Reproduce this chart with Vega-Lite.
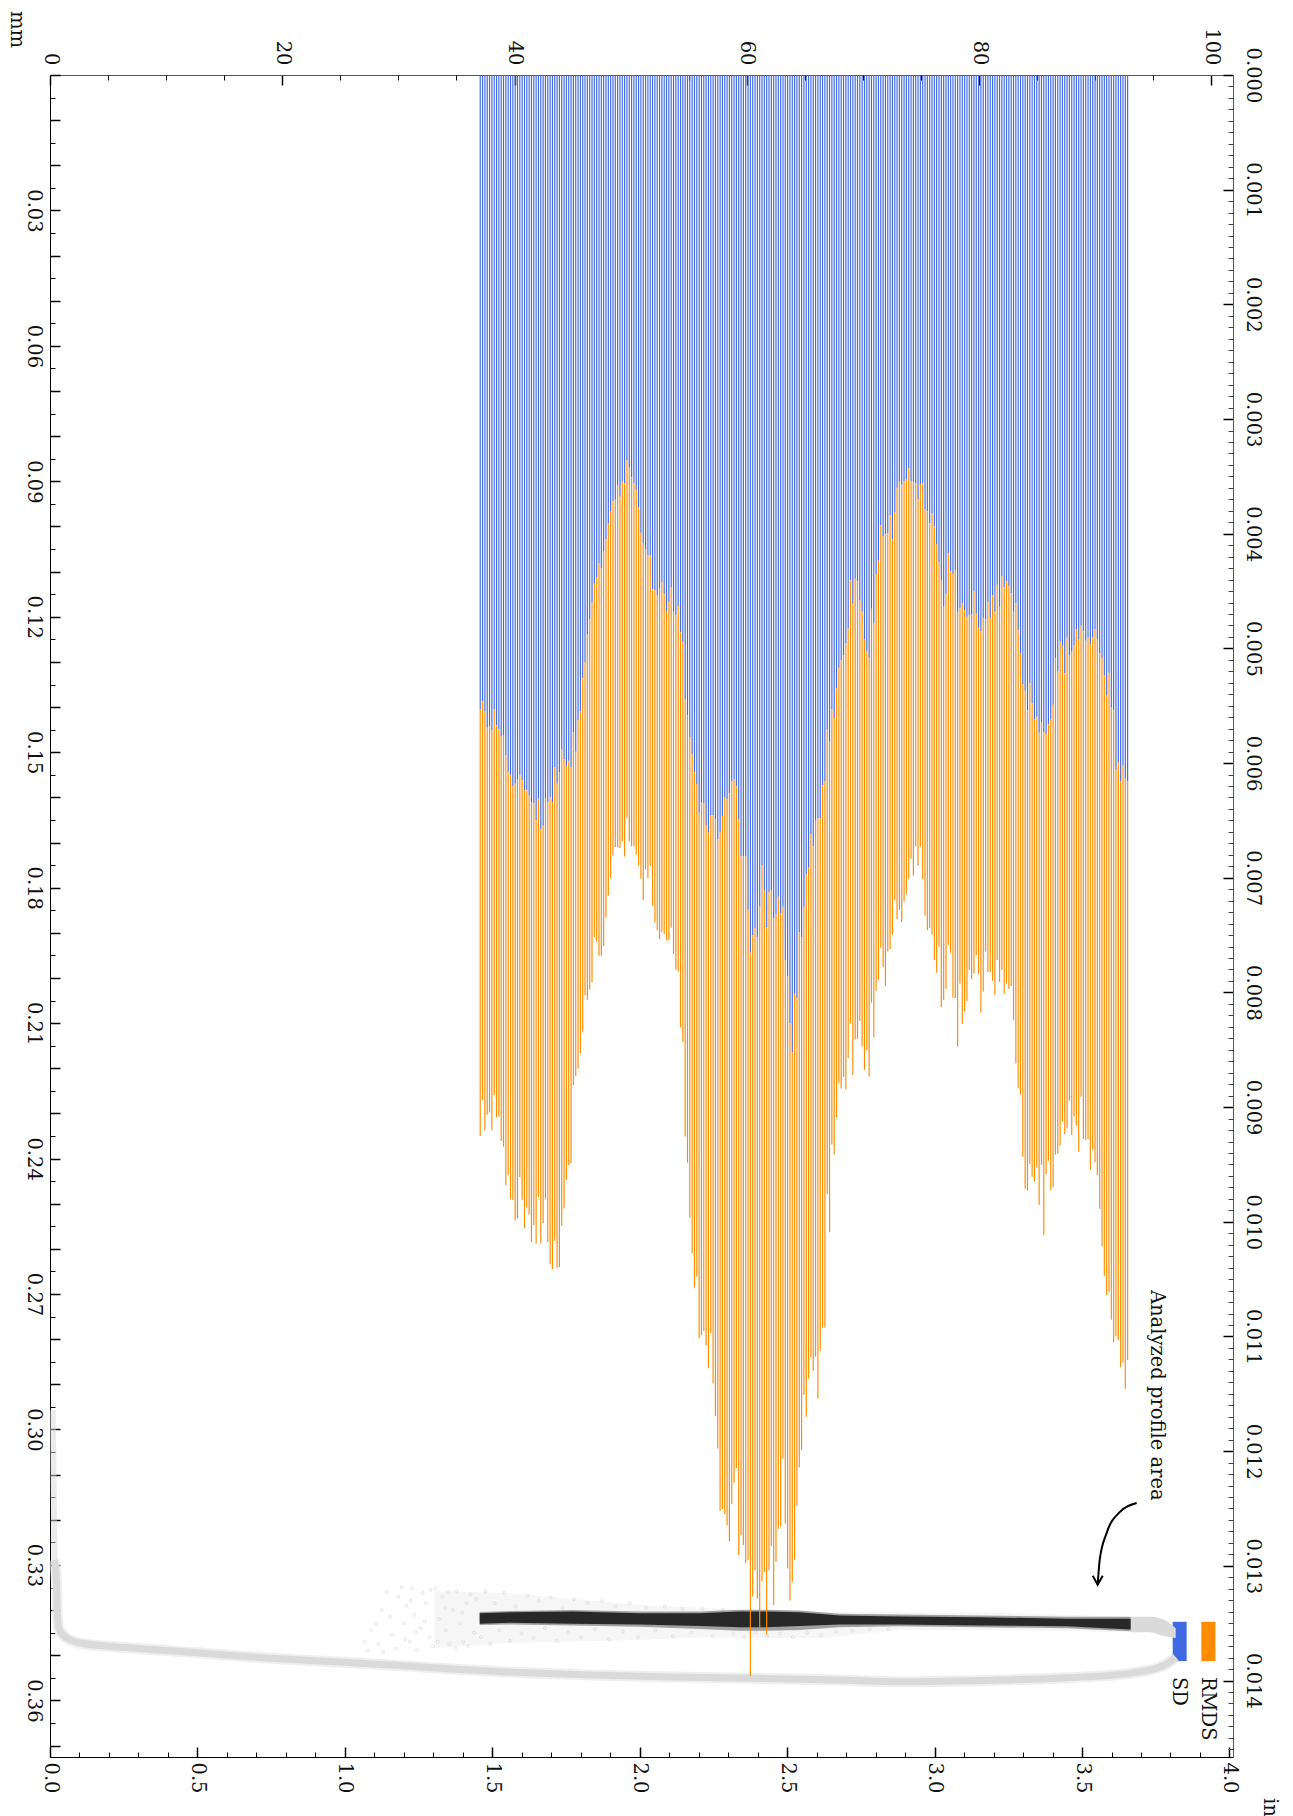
{"$schema":"https://vega.github.io/schema/vega-lite/v6.json","width":1183,"height":1682,"autosize":{"type":"none"},"padding":{"left":50,"top":75,"right":60,"bottom":59},"background":"white",
"config":{"view":{"stroke":null},"axis":{"grid":false,"labelFont":"DejaVu Serif","labelFontSize":19.5,"labelColor":"#111","titleFont":"DejaVu Serif","titleFontSize":19.5,"titleFontWeight":"normal","titleColor":"#111","labelOverlap":false,"labelFlush":false,"labelBound":false,"zindex":1,"tickColor":"black","domainColor":"black"}},
"datasets":{"profile":[
{"x":36.95,"sd":0.1405,"end":0.2350},{"x":37.15,"sd":0.1387,"end":0.2270},{"x":37.35,"sd":0.1409,"end":0.2338},{"x":37.55,"sd":0.1446,"end":0.2303},{"x":37.75,"sd":0.1442,"end":0.2298},{"x":37.95,"sd":0.1452,"end":0.2337},{"x":38.15,"sd":0.1405,"end":0.2259},{"x":38.35,"sd":0.1440,"end":0.2309},{"x":38.55,"sd":0.1449,"end":0.2306},{"x":38.75,"sd":0.1464,"end":0.2361},
{"x":38.95,"sd":0.1462,"end":0.2374},{"x":39.15,"sd":0.1506,"end":0.2459},{"x":39.35,"sd":0.1545,"end":0.2436},{"x":39.55,"sd":0.1550,"end":0.2490},{"x":39.75,"sd":0.1576,"end":0.2491},{"x":39.95,"sd":0.1570,"end":0.2537},{"x":40.15,"sd":0.1559,"end":0.2533},{"x":40.35,"sd":0.1550,"end":0.2441},{"x":40.55,"sd":0.1562,"end":0.2491},{"x":40.75,"sd":0.1584,"end":0.2554},
{"x":40.95,"sd":0.1584,"end":0.2509},{"x":41.15,"sd":0.1596,"end":0.2524},{"x":41.35,"sd":0.1610,"end":0.2585},{"x":41.55,"sd":0.1613,"end":0.2547},{"x":41.75,"sd":0.1650,"end":0.2588},{"x":41.95,"sd":0.1603,"end":0.2485},{"x":42.15,"sd":0.1670,"end":0.2588},{"x":42.35,"sd":0.1663,"end":0.2543},{"x":42.55,"sd":0.1603,"end":0.2490},{"x":42.75,"sd":0.1610,"end":0.2585},
{"x":42.95,"sd":0.1599,"end":0.2634},{"x":43.15,"sd":0.1610,"end":0.2645},{"x":43.35,"sd":0.1534,"end":0.2582},{"x":43.55,"sd":0.1570,"end":0.2642},{"x":43.75,"sd":0.1544,"end":0.2640},{"x":43.95,"sd":0.1494,"end":0.2549},{"x":44.15,"sd":0.1515,"end":0.2510},{"x":44.35,"sd":0.1531,"end":0.2447},{"x":44.55,"sd":0.1519,"end":0.2414},{"x":44.75,"sd":0.1534,"end":0.2411},
{"x":44.95,"sd":0.1455,"end":0.2237},{"x":45.15,"sd":0.1499,"end":0.2217},{"x":45.35,"sd":0.1429,"end":0.2201},{"x":45.55,"sd":0.1410,"end":0.2167},{"x":45.75,"sd":0.1336,"end":0.2119},{"x":45.95,"sd":0.1300,"end":0.2038},{"x":46.15,"sd":0.1238,"end":0.2048},{"x":46.35,"sd":0.1205,"end":0.2025},{"x":46.55,"sd":0.1169,"end":0.2010},{"x":46.75,"sd":0.1127,"end":0.1909},
{"x":46.95,"sd":0.1113,"end":0.1920},{"x":47.15,"sd":0.1081,"end":0.1951},{"x":47.35,"sd":0.1092,"end":0.1951},{"x":47.55,"sd":0.1054,"end":0.1929},{"x":47.75,"sd":0.1028,"end":0.1866},{"x":47.95,"sd":0.0994,"end":0.1818},{"x":48.15,"sd":0.0966,"end":0.1779},{"x":48.35,"sd":0.0944,"end":0.1729},{"x":48.55,"sd":0.0941,"end":0.1710},{"x":48.75,"sd":0.0908,"end":0.1711},
{"x":48.95,"sd":0.0934,"end":0.1712},{"x":49.15,"sd":0.0901,"end":0.1697},{"x":49.35,"sd":0.0905,"end":0.1731},{"x":49.55,"sd":0.0853,"end":0.1645},{"x":49.75,"sd":0.0870,"end":0.1697},{"x":49.95,"sd":0.0891,"end":0.1708},{"x":50.15,"sd":0.0904,"end":0.1708},{"x":50.35,"sd":0.0919,"end":0.1727},{"x":50.55,"sd":0.0958,"end":0.1751},{"x":50.75,"sd":0.1014,"end":0.1780},
{"x":50.95,"sd":0.1037,"end":0.1827},{"x":51.15,"sd":0.1050,"end":0.1759},{"x":51.35,"sd":0.1063,"end":0.1779},{"x":51.55,"sd":0.1063,"end":0.1752},{"x":51.75,"sd":0.1139,"end":0.1840},{"x":51.95,"sd":0.1141,"end":0.1877},{"x":52.15,"sd":0.1152,"end":0.1894},{"x":52.35,"sd":0.1138,"end":0.1914},{"x":52.55,"sd":0.1123,"end":0.1898},{"x":52.75,"sd":0.1150,"end":0.1903},
{"x":52.95,"sd":0.1189,"end":0.1917},{"x":53.15,"sd":0.1167,"end":0.1916},{"x":53.35,"sd":0.1135,"end":0.1889},{"x":53.55,"sd":0.1189,"end":0.1947},{"x":53.75,"sd":0.1196,"end":0.1982},{"x":53.95,"sd":0.1176,"end":0.1986},{"x":54.15,"sd":0.1234,"end":0.2109},{"x":54.35,"sd":0.1256,"end":0.2142},{"x":54.55,"sd":0.1383,"end":0.2351},{"x":54.75,"sd":0.1418,"end":0.2409},
{"x":54.95,"sd":0.1466,"end":0.2531},{"x":55.15,"sd":0.1505,"end":0.2610},{"x":55.35,"sd":0.1544,"end":0.2686},{"x":55.55,"sd":0.1571,"end":0.2661},{"x":55.75,"sd":0.1634,"end":0.2798},{"x":55.95,"sd":0.1610,"end":0.2791},{"x":56.15,"sd":0.1613,"end":0.2782},{"x":56.35,"sd":0.1663,"end":0.2814},{"x":56.55,"sd":0.1678,"end":0.2864},{"x":56.75,"sd":0.1639,"end":0.2787},
{"x":56.95,"sd":0.1639,"end":0.2898},{"x":57.15,"sd":0.1649,"end":0.2970},{"x":57.35,"sd":0.1692,"end":0.3042},{"x":57.55,"sd":0.1677,"end":0.3180},{"x":57.75,"sd":0.1641,"end":0.3176},{"x":57.95,"sd":0.1601,"end":0.3187},{"x":58.15,"sd":0.1604,"end":0.3212},{"x":58.35,"sd":0.1590,"end":0.3248},{"x":58.55,"sd":0.1564,"end":0.3165},{"x":58.75,"sd":0.1560,"end":0.3118},
{"x":58.95,"sd":0.1576,"end":0.3086},{"x":59.15,"sd":0.1648,"end":0.3278},{"x":59.35,"sd":0.1731,"end":0.3234},{"x":59.55,"sd":0.1731,"end":0.3256},{"x":59.75,"sd":0.1731,"end":0.3296},{"x":59.95,"sd":0.1849,"end":0.3289},{"x":60.15,"sd":0.1944,"end":0.3546},{"x":60.35,"sd":0.1905,"end":0.3370},{"x":60.55,"sd":0.1890,"end":0.3311},{"x":60.75,"sd":0.1910,"end":0.3375},
{"x":60.95,"sd":0.1842,"end":0.3442},{"x":61.15,"sd":0.1751,"end":0.3336},{"x":61.35,"sd":0.1807,"end":0.3316},{"x":61.55,"sd":0.1888,"end":0.3454},{"x":61.75,"sd":0.1810,"end":0.3311},{"x":61.95,"sd":0.1805,"end":0.3258},{"x":62.15,"sd":0.1868,"end":0.3389},{"x":62.35,"sd":0.1860,"end":0.3293},{"x":62.55,"sd":0.1820,"end":0.3220},{"x":62.75,"sd":0.1857,"end":0.3215},
{"x":62.95,"sd":0.1842,"end":0.3064},{"x":63.15,"sd":0.1960,"end":0.3208},{"x":63.35,"sd":0.1996,"end":0.3308},{"x":63.55,"sd":0.2100,"end":0.3379},{"x":63.75,"sd":0.2165,"end":0.3337},{"x":63.95,"sd":0.2035,"end":0.3289},{"x":64.15,"sd":0.2045,"end":0.3169},{"x":64.35,"sd":0.1898,"end":0.3084},{"x":64.55,"sd":0.1910,"end":0.3045},{"x":64.75,"sd":0.1842,"end":0.2923},
{"x":64.95,"sd":0.1770,"end":0.2972},{"x":65.15,"sd":0.1756,"end":0.2887},{"x":65.35,"sd":0.1681,"end":0.2840},{"x":65.55,"sd":0.1708,"end":0.2870},{"x":65.75,"sd":0.1652,"end":0.2839},{"x":65.95,"sd":0.1646,"end":0.2932},{"x":66.15,"sd":0.1646,"end":0.2826},{"x":66.35,"sd":0.1573,"end":0.2774},{"x":66.55,"sd":0.1565,"end":0.2774},{"x":66.75,"sd":0.1450,"end":0.2479},
{"x":66.95,"sd":0.1477,"end":0.2563},{"x":67.15,"sd":0.1405,"end":0.2369},{"x":67.35,"sd":0.1424,"end":0.2391},{"x":67.55,"sd":0.1359,"end":0.2309},{"x":67.75,"sd":0.1313,"end":0.2233},{"x":67.95,"sd":0.1297,"end":0.2245},{"x":68.15,"sd":0.1285,"end":0.2219},{"x":68.35,"sd":0.1259,"end":0.2247},{"x":68.55,"sd":0.1226,"end":0.2177},{"x":68.75,"sd":0.1119,"end":0.2100},
{"x":68.95,"sd":0.1171,"end":0.2215},{"x":69.15,"sd":0.1116,"end":0.2136},{"x":69.35,"sd":0.1121,"end":0.2135},{"x":69.55,"sd":0.1164,"end":0.2095},{"x":69.75,"sd":0.1189,"end":0.2152},{"x":69.95,"sd":0.1251,"end":0.2204},{"x":70.15,"sd":0.1276,"end":0.2160},{"x":70.35,"sd":0.1291,"end":0.2219},{"x":70.55,"sd":0.1182,"end":0.2055},{"x":70.75,"sd":0.1214,"end":0.2131},
{"x":70.95,"sd":0.1105,"end":0.2028},{"x":71.15,"sd":0.1076,"end":0.2004},{"x":71.35,"sd":0.0997,"end":0.1933},{"x":71.55,"sd":0.1021,"end":0.1976},{"x":71.75,"sd":0.1017,"end":0.2018},{"x":71.95,"sd":0.1015,"end":0.1941},{"x":72.15,"sd":0.0975,"end":0.1936},{"x":72.35,"sd":0.1028,"end":0.1904},{"x":72.55,"sd":0.0969,"end":0.1827},{"x":72.75,"sd":0.0914,"end":0.1870},
{"x":72.95,"sd":0.0901,"end":0.1849},{"x":73.15,"sd":0.0907,"end":0.1876},{"x":73.35,"sd":0.0899,"end":0.1831},{"x":73.55,"sd":0.0896,"end":0.1814},{"x":73.75,"sd":0.0871,"end":0.1780},{"x":73.95,"sd":0.0901,"end":0.1736},{"x":74.15,"sd":0.0901,"end":0.1773},{"x":74.35,"sd":0.0904,"end":0.1709},{"x":74.55,"sd":0.0939,"end":0.1751},{"x":74.75,"sd":0.0906,"end":0.1709},
{"x":74.95,"sd":0.0904,"end":0.1781},{"x":75.15,"sd":0.0961,"end":0.1862},{"x":75.35,"sd":0.0966,"end":0.1894},{"x":75.55,"sd":0.0993,"end":0.1889},{"x":75.75,"sd":0.0970,"end":0.1904},{"x":75.95,"sd":0.1000,"end":0.1960},{"x":76.15,"sd":0.1040,"end":0.1988},{"x":76.35,"sd":0.1079,"end":0.1931},{"x":76.55,"sd":0.1120,"end":0.2064},{"x":76.75,"sd":0.1178,"end":0.2048},
{"x":76.95,"sd":0.1150,"end":0.2024},{"x":77.15,"sd":0.1059,"end":0.1927},{"x":77.35,"sd":0.1099,"end":0.1944},{"x":77.55,"sd":0.1105,"end":0.2044},{"x":77.75,"sd":0.1096,"end":0.2045},{"x":77.95,"sd":0.1189,"end":0.2152},{"x":78.15,"sd":0.1181,"end":0.2013},{"x":78.35,"sd":0.1170,"end":0.2102},{"x":78.55,"sd":0.1185,"end":0.2074},{"x":78.75,"sd":0.1200,"end":0.2051},
{"x":78.95,"sd":0.1196,"end":0.1982},{"x":79.15,"sd":0.1195,"end":0.2002},{"x":79.35,"sd":0.1144,"end":0.1990},{"x":79.55,"sd":0.1193,"end":0.1950},{"x":79.75,"sd":0.1224,"end":0.1991},{"x":79.95,"sd":0.1232,"end":0.2077},{"x":80.15,"sd":0.1203,"end":0.2030},{"x":80.35,"sd":0.1206,"end":0.1942},{"x":80.55,"sd":0.1167,"end":0.1987},{"x":80.75,"sd":0.1203,"end":0.1987},
{"x":80.95,"sd":0.1153,"end":0.2006},{"x":81.15,"sd":0.1189,"end":0.2037},{"x":81.35,"sd":0.1129,"end":0.1960},{"x":81.55,"sd":0.1176,"end":0.2009},{"x":81.75,"sd":0.1110,"end":0.1982},{"x":81.95,"sd":0.1134,"end":0.2035},{"x":82.15,"sd":0.1122,"end":0.2013},{"x":82.35,"sd":0.1132,"end":0.2024},{"x":82.55,"sd":0.1148,"end":0.2018},{"x":82.75,"sd":0.1189,"end":0.2093},
{"x":82.95,"sd":0.1170,"end":0.2189},{"x":83.15,"sd":0.1230,"end":0.2245},{"x":83.35,"sd":0.1280,"end":0.2258},{"x":83.55,"sd":0.1349,"end":0.2396},{"x":83.75,"sd":0.1364,"end":0.2467},{"x":83.95,"sd":0.1407,"end":0.2471},{"x":84.15,"sd":0.1348,"end":0.2412},{"x":84.35,"sd":0.1392,"end":0.2440},{"x":84.55,"sd":0.1427,"end":0.2451},{"x":84.75,"sd":0.1422,"end":0.2419},
{"x":84.95,"sd":0.1457,"end":0.2502},{"x":85.15,"sd":0.1433,"end":0.2414},{"x":85.35,"sd":0.1455,"end":0.2569},{"x":85.55,"sd":0.1460,"end":0.2434},{"x":85.75,"sd":0.1438,"end":0.2405},{"x":85.95,"sd":0.1427,"end":0.2470},{"x":86.15,"sd":0.1395,"end":0.2463},{"x":86.35,"sd":0.1292,"end":0.2391},{"x":86.55,"sd":0.1320,"end":0.2389},{"x":86.75,"sd":0.1255,"end":0.2371},
{"x":86.95,"sd":0.1266,"end":0.2318},{"x":87.15,"sd":0.1325,"end":0.2346},{"x":87.35,"sd":0.1246,"end":0.2333},{"x":87.55,"sd":0.1286,"end":0.2272},{"x":87.75,"sd":0.1276,"end":0.2348},{"x":87.95,"sd":0.1263,"end":0.2307},{"x":88.15,"sd":0.1227,"end":0.2327},{"x":88.35,"sd":0.1251,"end":0.2385},{"x":88.55,"sd":0.1220,"end":0.2263},{"x":88.75,"sd":0.1232,"end":0.2357},
{"x":88.95,"sd":0.1253,"end":0.2359},{"x":89.15,"sd":0.1245,"end":0.2357},{"x":89.35,"sd":0.1261,"end":0.2425},{"x":89.55,"sd":0.1246,"end":0.2381},{"x":89.75,"sd":0.1227,"end":0.2408},{"x":89.95,"sd":0.1251,"end":0.2437},{"x":90.15,"sd":0.1280,"end":0.2511},{"x":90.35,"sd":0.1291,"end":0.2594},{"x":90.55,"sd":0.1329,"end":0.2660},{"x":90.75,"sd":0.1375,"end":0.2702},
{"x":90.95,"sd":0.1324,"end":0.2695},{"x":91.15,"sd":0.1400,"end":0.2757},{"x":91.35,"sd":0.1407,"end":0.2807},{"x":91.55,"sd":0.1539,"end":0.2793},{"x":91.75,"sd":0.1522,"end":0.2802},{"x":91.95,"sd":0.1565,"end":0.2862},{"x":92.15,"sd":0.1529,"end":0.2851},{"x":92.35,"sd":0.1558,"end":0.2910},{"x":92.55,"sd":0.1564,"end":0.2846}
],
"core":[{"x":36.90,"t":0.3407,"b":0.3430},{"x":39.48,"t":0.3405,"b":0.3428},{"x":44.89,"t":0.3403,"b":0.3430},{"x":50.64,"t":0.3407,"b":0.3432},{"x":55.80,"t":0.3407,"b":0.3435},{"x":59.23,"t":0.3403,"b":0.3438},{"x":61.55,"t":0.3403,"b":0.3438},{"x":64.38,"t":0.3405,"b":0.3435},{"x":67.82,"t":0.3412,"b":0.3432},{"x":72.97,"t":0.3414,"b":0.3432},{"x":79.84,"t":0.3416,"b":0.3434},{"x":87.31,"t":0.3419,"b":0.3436},{"x":92.81,"t":0.3419,"b":0.3443}],
"fringe":[{"x":36.90,"t":0.3404,"b":0.3433},{"x":39.48,"t":0.3402,"b":0.3432},{"x":44.89,"t":0.3400,"b":0.3434},{"x":50.64,"t":0.3403,"b":0.3437},{"x":55.80,"t":0.3403,"b":0.3442},{"x":59.23,"t":0.3399,"b":0.3446},{"x":61.55,"t":0.3399,"b":0.3446},{"x":64.38,"t":0.3401,"b":0.3444},{"x":67.82,"t":0.3408,"b":0.3438},{"x":72.97,"t":0.3410,"b":0.3436},{"x":79.84,"t":0.3412,"b":0.3438},{"x":87.31,"t":0.3415,"b":0.3440},{"x":92.81,"t":0.3415,"b":0.3447}],
"haze":[{"x":33.0,"t":0.3358,"b":0.3485},{"x":39.22,"t":0.3362,"b":0.3473},{"x":50.64,"t":0.3389,"b":0.3466},{"x":55.80,"t":0.3395,"b":0.3460},{"x":60.69,"t":0.3402,"b":0.3462},{"x":66.36,"t":0.3404,"b":0.3462},{"x":72.97,"t":0.3404,"b":0.3444},{"x":81.56,"t":0.3406,"b":0.3444},{"x":92.73,"t":0.3415,"b":0.3449}],
"specks":[{"x":27.0,"y":0.3470},{"x":27.3,"y":0.3490},{"x":27.6,"y":0.3445},{"x":28.0,"y":0.3430},{"x":28.2,"y":0.3475},{"x":28.5,"y":0.3400},{"x":28.6,"y":0.3492},{"x":28.9,"y":0.3360},{"x":29.2,"y":0.3415},{"x":29.4,"y":0.3455},{"x":29.7,"y":0.3485},{"x":29.9,"y":0.3370},{"x":30.2,"y":0.3350},{"x":30.4,"y":0.3430},{"x":30.6,"y":0.3390},{"x":30.9,"y":0.3470},{"x":31.1,"y":0.3352},{"x":31.3,"y":0.3410},{"x":31.5,"y":0.3488},{"x":31.8,"y":0.3440},{"x":32.0,"y":0.3362},{"x":32.3,"y":0.3385},{"x":32.6,"y":0.3460},{"x":32.9,"y":0.3480},{"x":33.1,"y":0.3352},{"x":33.4,"y":0.3420},{"x":33.7,"y":0.3370},{"x":34.0,"y":0.3445},{"x":34.3,"y":0.3475},{"x":34.6,"y":0.3400},{"x":34.9,"y":0.3358},{"x":35.2,"y":0.3430},{"x":35.5,"y":0.3470},{"x":35.8,"y":0.3385},{"x":36.1,"y":0.3365},{"x":36.4,"y":0.3450},
{"x":30.5,"y":0.3465},{"x":31.0,"y":0.3380},{"x":31.4,"y":0.3450},{"x":32.2,"y":0.3425},{"x":32.7,"y":0.3355},{"x":33.3,"y":0.3470},{"x":33.9,"y":0.3395},{"x":34.2,"y":0.3360},{"x":34.8,"y":0.3485},{"x":35.4,"y":0.3405},{"x":35.9,"y":0.3480},{"x":36.6,"y":0.3375},{"x":37.0,"y":0.3460},{"x":37.4,"y":0.3358},{"x":37.8,"y":0.3475},{"x":38.2,"y":0.3385},{"x":38.6,"y":0.3445},{"x":39.0,"y":0.3362},{"x":39.5,"y":0.3468},{"x":40.0,"y":0.3392},{"x":40.5,"y":0.3452},{"x":41.0,"y":0.3368},{"x":41.5,"y":0.3462},{"x":42.0,"y":0.3380},{"x":42.5,"y":0.3440},{"x":43.0,"y":0.3372},{"x":43.5,"y":0.3468},{"x":44.0,"y":0.3395},{"x":44.5,"y":0.3450},{"x":45.0,"y":0.3376},{"x":45.6,"y":0.3460},{"x":46.2,"y":0.3384},{"x":46.8,"y":0.3442},{"x":47.4,"y":0.3380},{"x":48.0,"y":0.3465},{"x":48.6,"y":0.3392},{"x":49.2,"y":0.3448},{"x":49.8,"y":0.3385},{"x":50.5,"y":0.3460},{"x":51.2,"y":0.3395},{"x":52.0,"y":0.3445},{"x":52.8,"y":0.3392},{"x":53.5,"y":0.3458},{"x":54.3,"y":0.3398},{"x":55.1,"y":0.3450},{"x":56.0,"y":0.3397},{"x":56.9,"y":0.3458},{"x":57.8,"y":0.3400},{"x":58.7,"y":0.3452},{"x":59.6,"y":0.3460},{"x":60.6,"y":0.3450},{"x":61.6,"y":0.3458},{"x":62.7,"y":0.3452},{"x":63.8,"y":0.3460},{"x":65.0,"y":0.3450},{"x":66.2,"y":0.3456},{"x":67.5,"y":0.3448},{"x":68.9,"y":0.3446},{"x":70.4,"y":0.3442},{"x":72.0,"y":0.3442}],
"tail":[{"x":0.23,"y":0.2957},{"x":0.27,"y":0.3045},{"x":0.32,"y":0.3156},{"x":0.40,"y":0.3289}],
"lower":[{"x":0.40,"y":0.3289},{"x":0.58,"y":0.3355},{"x":0.62,"y":0.3406},{"x":0.75,"y":0.3440},{"x":1.44,"y":0.3462},{"x":2.55,"y":0.3473},{"x":7.10,"y":0.3484},{"x":12.86,"y":0.3495},{"x":18.61,"y":0.3506},{"x":24.88,"y":0.3515},{"x":30.03,"y":0.3523},{"x":39.22,"y":0.3537},{"x":53.48,"y":0.3548},{"x":67.82,"y":0.3555},{"x":72.97,"y":0.3559},{"x":81.56,"y":0.3555},{"x":87.31,"y":0.3550},{"x":92.98,"y":0.3539},{"x":95.30,"y":0.3526},{"x":96.16,"y":0.3515},{"x":96.68,"y":0.3504}],
"tip":[{"x":92.81,"t":0.3415,"b":0.3449},{"x":94.44,"t":0.3415,"b":0.3449},{"x":95.73,"t":0.3422,"b":0.3458},{"x":96.68,"t":0.3440,"b":0.3462}],
"keys":[{"name":"SD","x":96.42,"x2":97.62,"mid":96.93,"top":0.3426,"bottom":0.3513,"lab":0.3548},{"name":"RMDS","x":98.88,"x2":100.09,"mid":99.42,"top":0.3426,"bottom":0.3513,"lab":0.3548}],
"arrow":[{"x":89.98,"y":0.3344},{"x":90.15,"y":0.3289},{"x":90.75,"y":0.3229},{"x":91.87,"y":0.3183},{"x":93.33,"y":0.3163}],
"head":[{"x":89.55,"y":0.3324},{"x":89.98,"y":0.3344},{"x":90.41,"y":0.3324}],
"note":[{"x":95.05,"y":0.2691,"text":"Analyzed profile area"}],
"origin":[{"a":0,"b":0}]
},
"resolve":{"scale":{"x":"independent","y":"independent"},"axis":{"x":"independent","y":"independent"}},
"layer":[
{"data":{"name":"origin"},"mark":{"type":"point","opacity":0},"encoding":{
"x":{"field":"a","type":"quantitative","scale":{"domain":[0,4.012],"nice":false,"zero":false},"axis":{"orient":"bottom","values":[0,0.5,1,1.5,2,2.5,3,3.5,4],"format":".1f","tickSize":-10,"tickWidth":1.5,"domainWidth":1,"labelAngle":90,"labelPadding":15,"title":"in","titleAngle":90,"titleX":1219.7,"titleY":50,"titleAlign":"center","titleBaseline":"middle"}},
"y":{"field":"b","type":"quantitative","scale":{"domain":[0,0.37254],"reverse":true,"nice":false,"zero":false},"axis":{"orient":"left","values":[0,0.01,0.02,0.03,0.04,0.05,0.06,0.07,0.08,0.09,0.1,0.11,0.12,0.13,0.14,0.15,0.16,0.17,0.18,0.19,0.2,0.21,0.22,0.23,0.24,0.25,0.26,0.27,0.28,0.29,0.3,0.31,0.32,0.33,0.34,0.35,0.36,0.37],"labelExpr":"datum.value>0 && round(datum.value*100)%3==0 ? format(datum.value,'.2f') : ''","tickSize":-10,"tickWidth":1.5,"domainWidth":1,"labelAngle":90,"labelPadding":18,"title":"mm","titleAngle":90,"titleX":-33.7,"titleY":-46,"titleAlign":"center","titleBaseline":"middle"}}}},
{"data":{"name":"origin"},"mark":{"type":"point","opacity":0},"encoding":{
"x":{"field":"a","type":"quantitative","scale":{"domain":[0,4.012],"nice":false,"zero":false},"axis":{"orient":"bottom","values":[0.1,0.2,0.3,0.4,0.6,0.7,0.8,0.9,1.1,1.2,1.3,1.4,1.6,1.7,1.8,1.9,2.1,2.2,2.3,2.4,2.6,2.7,2.8,2.9,3.1,3.2,3.3,3.4,3.6,3.7,3.8,3.9],"tickSize":-5,"tickWidth":1,"domain":false,"labels":false,"title":null}},
"y":{"field":"b","type":"quantitative","scale":{"domain":[0,0.37254],"reverse":true,"nice":false,"zero":false},"axis":{"orient":"left","values":[0.005,0.015,0.025,0.035,0.045,0.055,0.065,0.075,0.085,0.095,0.105,0.115,0.125,0.135,0.145,0.155,0.165,0.175,0.185,0.195,0.205,0.215,0.225,0.235,0.245,0.255,0.265,0.275,0.285,0.295,0.305,0.315,0.325,0.335,0.345,0.355,0.365],"tickSize":-5,"tickWidth":1,"domain":false,"labels":false,"title":null}}}},
{"data":{"name":"origin"},"mark":{"type":"point","opacity":0},"encoding":{
"x":{"field":"a","type":"quantitative","scale":{"domain":[0,101.86],"nice":false,"zero":false},"axis":{"orient":"top","values":[0,20,40,60,80,100],"format":"d","tickSize":-10,"tickWidth":1.5,"domainWidth":1,"domainColor":"#555","labelAngle":90,"labelPadding":20,"title":null}},
"y":{"field":"b","type":"quantitative","scale":{"domain":[0,0.014667],"reverse":true,"nice":false,"zero":false},"axis":{"orient":"right","values":[0,0.001,0.002,0.003,0.004,0.005,0.006,0.007,0.008,0.009,0.01,0.011,0.012,0.013,0.014],"format":".3f","tickSize":-10,"tickWidth":1.5,"domainWidth":1,"domainColor":"#555","labelAngle":90,"labelPadding":19.5,"title":null}}}},
{"data":{"name":"origin"},"mark":{"type":"point","opacity":0},"encoding":{
"x":{"field":"a","type":"quantitative","scale":{"domain":[0,101.86],"nice":false,"zero":false},"axis":{"orient":"top","values":[5,10,15,25,30,35,45,50,55,65,70,75,85,90,95],"tickSize":-5,"tickWidth":1,"domain":false,"labels":false,"title":null}},
"y":{"field":"b","type":"quantitative","scale":{"domain":[0,0.014667],"reverse":true,"nice":false,"zero":false},"axis":{"orient":"right","values":[0.0001,0.0002,0.0003,0.0004,0.0005,0.0006,0.0007,0.0008,0.0009,0.0011,0.0012,0.0013,0.0014,0.0015,0.0016,0.0017,0.0018,0.0019,0.0021,0.0022,0.0023,0.0024,0.0025,0.0026,0.0027,0.0028,0.0029,0.0031,0.0032,0.0033,0.0034,0.0035,0.0036,0.0037,0.0038,0.0039,0.0041,0.0042,0.0043,0.0044,0.0045,0.0046,0.0047,0.0048,0.0049,0.0051,0.0052,0.0053,0.0054,0.0055,0.0056,0.0057,0.0058,0.0059,0.0061,0.0062,0.0063,0.0064,0.0065,0.0066,0.0067,0.0068,0.0069,0.0071,0.0072,0.0073,0.0074,0.0075,0.0076,0.0077,0.0078,0.0079,0.0081,0.0082,0.0083,0.0084,0.0085,0.0086,0.0087,0.0088,0.0089,0.0091,0.0092,0.0093,0.0094,0.0095,0.0096,0.0097,0.0098,0.0099,0.0101,0.0102,0.0103,0.0104,0.0105,0.0106,0.0107,0.0108,0.0109,0.0111,0.0112,0.0113,0.0114,0.0115,0.0116,0.0117,0.0118,0.0119,0.0121,0.0122,0.0123,0.0124,0.0125,0.0126,0.0127,0.0128,0.0129,0.0131,0.0132,0.0133,0.0134,0.0135,0.0136,0.0137,0.0138,0.0139,0.0141,0.0142,0.0143,0.0144,0.0145,0.0146],"tickSize":-5,"tickWidth":1,"tickColor":"#444","domain":false,"labels":false,"title":null}}}},
{"layer":[
{"data":{"name":"keys"},"mark":{"type":"rect"},"encoding":{"x":{"field":"x","type":"quantitative","scale":{"domain":[0,101.6],"nice":false,"zero":false},"axis":null},"x2":{"field":"x2"},"y":{"field":"top","type":"quantitative","scale":{"domain":[0,0.37254],"reverse":true,"nice":false,"zero":false},"axis":null},"y2":{"field":"bottom"},"color":{"field":"name","type":"nominal","scale":{"domain":["SD","RMDS"],"range":["#4169E1","#FF8C00"]},"legend":null}}},
{"data":{"name":"keys"},"mark":{"type":"text","angle":90,"align":"left","baseline":"middle","font":"DejaVu Serif","fontSize":19.5,"color":"#111"},"encoding":{"x":{"field":"mid","type":"quantitative","scale":{"domain":[0,101.6],"nice":false,"zero":false},"axis":null},"y":{"field":"lab","type":"quantitative","scale":{"domain":[0,0.37254],"reverse":true,"nice":false,"zero":false},"axis":null},"text":{"field":"name","type":"nominal"}}},
{"data":{"name":"haze"},"mark":{"type":"area","orient":"vertical","color":"#b8b8b8","opacity":0.12},"encoding":{"x":{"field":"x","type":"quantitative","scale":{"domain":[0,101.6],"nice":false,"zero":false},"axis":null},"y":{"field":"t","type":"quantitative","scale":{"domain":[0,0.37254],"reverse":true,"nice":false,"zero":false},"axis":null},"y2":{"field":"b"}}},
{"data":{"name":"specks"},"mark":{"type":"point","filled":false,"size":9,"color":"#888","strokeWidth":0.8,"opacity":0.25},"encoding":{"x":{"field":"x","type":"quantitative","scale":{"domain":[0,101.6],"nice":false,"zero":false},"axis":null},"y":{"field":"y","type":"quantitative","scale":{"domain":[0,0.37254],"reverse":true,"nice":false,"zero":false},"axis":null}}},
{"data":{"name":"tail"},"mark":{"type":"line","color":"#d8d8d8","strokeWidth":6,"opacity":0.5},"encoding":{"x":{"field":"x","type":"quantitative","scale":{"domain":[0,101.6],"nice":false,"zero":false},"axis":null},"y":{"field":"y","type":"quantitative","scale":{"domain":[0,0.37254],"reverse":true,"nice":false,"zero":false},"axis":null}}},
{"data":{"name":"lower"},"mark":{"type":"line","color":"#e4e4e4","strokeWidth":11,"opacity":0.6,"interpolate":"monotone"},"encoding":{"x":{"field":"x","type":"quantitative","scale":{"domain":[0,101.6],"nice":false,"zero":false},"axis":null},"y":{"field":"y","type":"quantitative","scale":{"domain":[0,0.37254],"reverse":true,"nice":false,"zero":false},"axis":null}}},
{"data":{"name":"lower"},"mark":{"type":"line","color":"#dadada","strokeWidth":7,"interpolate":"monotone"},"encoding":{"x":{"field":"x","type":"quantitative","scale":{"domain":[0,101.6],"nice":false,"zero":false},"axis":null},"y":{"field":"y","type":"quantitative","scale":{"domain":[0,0.37254],"reverse":true,"nice":false,"zero":false},"axis":null}}},
{"data":{"name":"tip"},"mark":{"type":"area","orient":"vertical","color":"#dadada","interpolate":"monotone"},"encoding":{"x":{"field":"x","type":"quantitative","scale":{"domain":[0,101.6],"nice":false,"zero":false},"axis":null},"y":{"field":"t","type":"quantitative","scale":{"domain":[0,0.37254],"reverse":true,"nice":false,"zero":false},"axis":null},"y2":{"field":"b"}}},
{"data":{"name":"fringe"},"mark":{"type":"area","orient":"vertical","color":"black","opacity":0.35},"encoding":{"x":{"field":"x","type":"quantitative","scale":{"domain":[0,101.6],"nice":false,"zero":false},"axis":null},"y":{"field":"t","type":"quantitative","scale":{"domain":[0,0.37254],"reverse":true,"nice":false,"zero":false},"axis":null},"y2":{"field":"b"}}},
{"data":{"name":"core"},"mark":{"type":"area","orient":"vertical","color":"#0d0d0d","opacity":0.82},"encoding":{"x":{"field":"x","type":"quantitative","scale":{"domain":[0,101.6],"nice":false,"zero":false},"axis":null},"y":{"field":"t","type":"quantitative","scale":{"domain":[0,0.37254],"reverse":true,"nice":false,"zero":false},"axis":null},"y2":{"field":"b"}}},
{"data":{"name":"profile"},"mark":{"type":"rule","color":"#4169E1","strokeWidth":1.164},"encoding":{"x":{"field":"x","type":"quantitative","scale":{"domain":[0,101.6],"nice":false,"zero":false},"axis":null},"y":{"field":"sd","type":"quantitative","scale":{"domain":[0,0.37254],"reverse":true,"nice":false,"zero":false},"axis":null},"y2":{"datum":0}}},
{"data":{"name":"profile"},"mark":{"type":"rule","color":"#FF8C00","strokeWidth":1.164},"encoding":{"x":{"field":"x","type":"quantitative","scale":{"domain":[0,101.6],"nice":false,"zero":false},"axis":null},"y":{"field":"sd","type":"quantitative","scale":{"domain":[0,0.37254],"reverse":true,"nice":false,"zero":false},"axis":null},"y2":{"field":"end"}}},
{"data":{"name":"arrow"},"mark":{"type":"line","color":"black","strokeWidth":2,"interpolate":"monotone"},"encoding":{"x":{"field":"x","type":"quantitative","scale":{"domain":[0,101.6],"nice":false,"zero":false},"axis":null},"y":{"field":"y","type":"quantitative","scale":{"domain":[0,0.37254],"reverse":true,"nice":false,"zero":false},"axis":null}}},
{"data":{"name":"head"},"mark":{"type":"line","color":"black","strokeWidth":2},"encoding":{"x":{"field":"x","type":"quantitative","scale":{"domain":[0,101.6],"nice":false,"zero":false},"axis":null},"y":{"field":"y","type":"quantitative","scale":{"domain":[0,0.37254],"reverse":true,"nice":false,"zero":false},"axis":null}}},
{"data":{"name":"note"},"mark":{"type":"text","angle":90,"align":"left","baseline":"middle","font":"DejaVu Serif","fontSize":19.5,"color":"#111"},"encoding":{"x":{"field":"x","type":"quantitative","scale":{"domain":[0,101.6],"nice":false,"zero":false},"axis":null},"y":{"field":"y","type":"quantitative","scale":{"domain":[0,0.37254],"reverse":true,"nice":false,"zero":false},"axis":null},"text":{"field":"text","type":"nominal"}}}
]}
]}
